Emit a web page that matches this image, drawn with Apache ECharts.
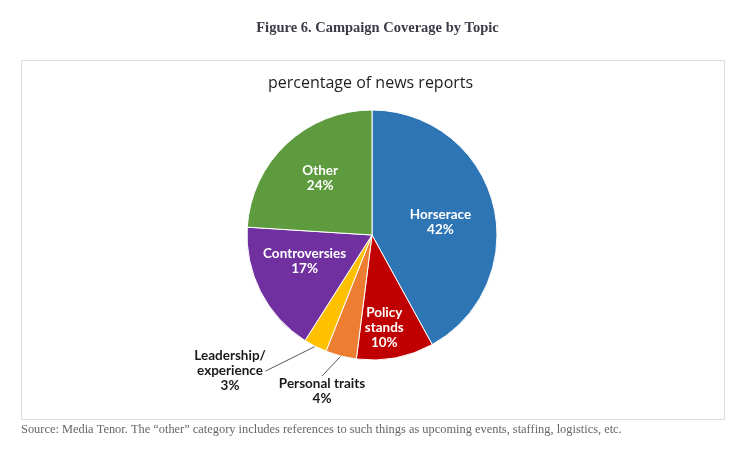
<!DOCTYPE html>
<html>
<head>
<meta charset="utf-8">
<script src="https://cdn.jsdelivr.net/npm/echarts@6/dist/echarts.min.js"></script>
<style>
html,body{margin:0;padding:0;background:#fff;}
#chart{width:755px;height:459px;}
</style>
</head>
<body>
<div id="chart"></div>
<script>
// ---- data ----
var categories = ['Horserace', 'Policy\nstands', 'Personal traits', 'Leadership/\nexperience', 'Controversies', 'Other'];
var percents = [42, 10, 4, 3, 17, 24];
var colors = ['#2E75B6', '#C00000', '#ED7D31', '#FFC000', '#7030A0', '#5E9B3E'];
var outsideLabel = [false, false, true, true, false, false];
var figureTitle = 'Figure 6. Campaign Coverage by Topic';
var chartTitle = 'percentage of news reports';
var sourceNote = 'Source: Media Tenor. The \u201cother\u201d category includes references to such things as upcoming events, staffing, logistics, etc.';

// label nudges (style only)
var labelShift = [[5, 3], [0, 28], null, null, [-9, -4], [-7, -9]];

var chart = echarts.init(document.getElementById('chart'), null, {renderer: 'canvas'});

var data = categories.map(function (name, i) {
  var item = {
    name: name,
    value: percents[i],
    itemStyle: {color: colors[i]}
  };
  if (outsideLabel[i]) {
    item.label = {
      position: 'outside',
      color: '#1a1a1a',
      align: 'center'
    };
    item.labelLine = {show: true};
  } else {
    item.label = {position: 'inside', color: '#ffffff'};
    item.labelLine = {show: false};
  }
  return item;
});

var option = {
  backgroundColor: '#ffffff',
  animation: false,
  title: [{
    text: figureTitle,
    left: 'center',
    top: 21,
    padding: 0,
    textStyle: {fontFamily: 'Liberation Serif', fontWeight: 'bold', fontSize: 14.5, color: '#3b3b48'}
  }, {
    text: chartTitle,
    left: 268,
    top: 75,
    padding: 0,
    textStyle: {fontFamily: 'Open Sans', fontWeight: 'normal', fontSize: 16, color: '#1f1f1f'}
  }, {
    text: sourceNote,
    left: 21,
    top: 424,
    padding: 0,
    textStyle: {fontFamily: 'Liberation Serif', fontWeight: 'normal', fontSize: 12.4, color: '#666666'}
  }],
  graphic: [{
    type: 'rect',
    z: -1,
    shape: {x: 21.5, y: 60.5, width: 703, height: 359},
    style: {fill: '#ffffff', stroke: '#dcdcdc', lineWidth: 1}
  }],
  series: [{
    type: 'pie',
    center: [372, 235],
    radius: [0, 125],
    startAngle: 90,
    clockwise: true,
    avoidLabelOverlap: false,
    itemStyle: {borderColor: '#ffffff', borderWidth: 1},
    label: {
      show: true,
      formatter: '{b}\n{c}%',
      fontFamily: 'Lato',
      fontWeight: 'bold',
      fontSize: 13.5,
      lineHeight: 15
    },
    labelLine: {length: 10, length2: 0, lineStyle: {color: '#595959', width: 1}},
    labelLayout: function (params) {
      var i = params.dataIndex;
      if (i === 3) {
        return {x: 230, y: 371, align: 'center', verticalAlign: 'middle'};
      }
      if (i === 2) {
        return {x: 322, y: 391, align: 'center', verticalAlign: 'middle'};
      }
      var s = labelShift[i];
      return s ? {dx: s[0], dy: s[1]} : {};
    },
    data: data
  }]
};
chart.setOption(option);
</script>
</body>
</html>
